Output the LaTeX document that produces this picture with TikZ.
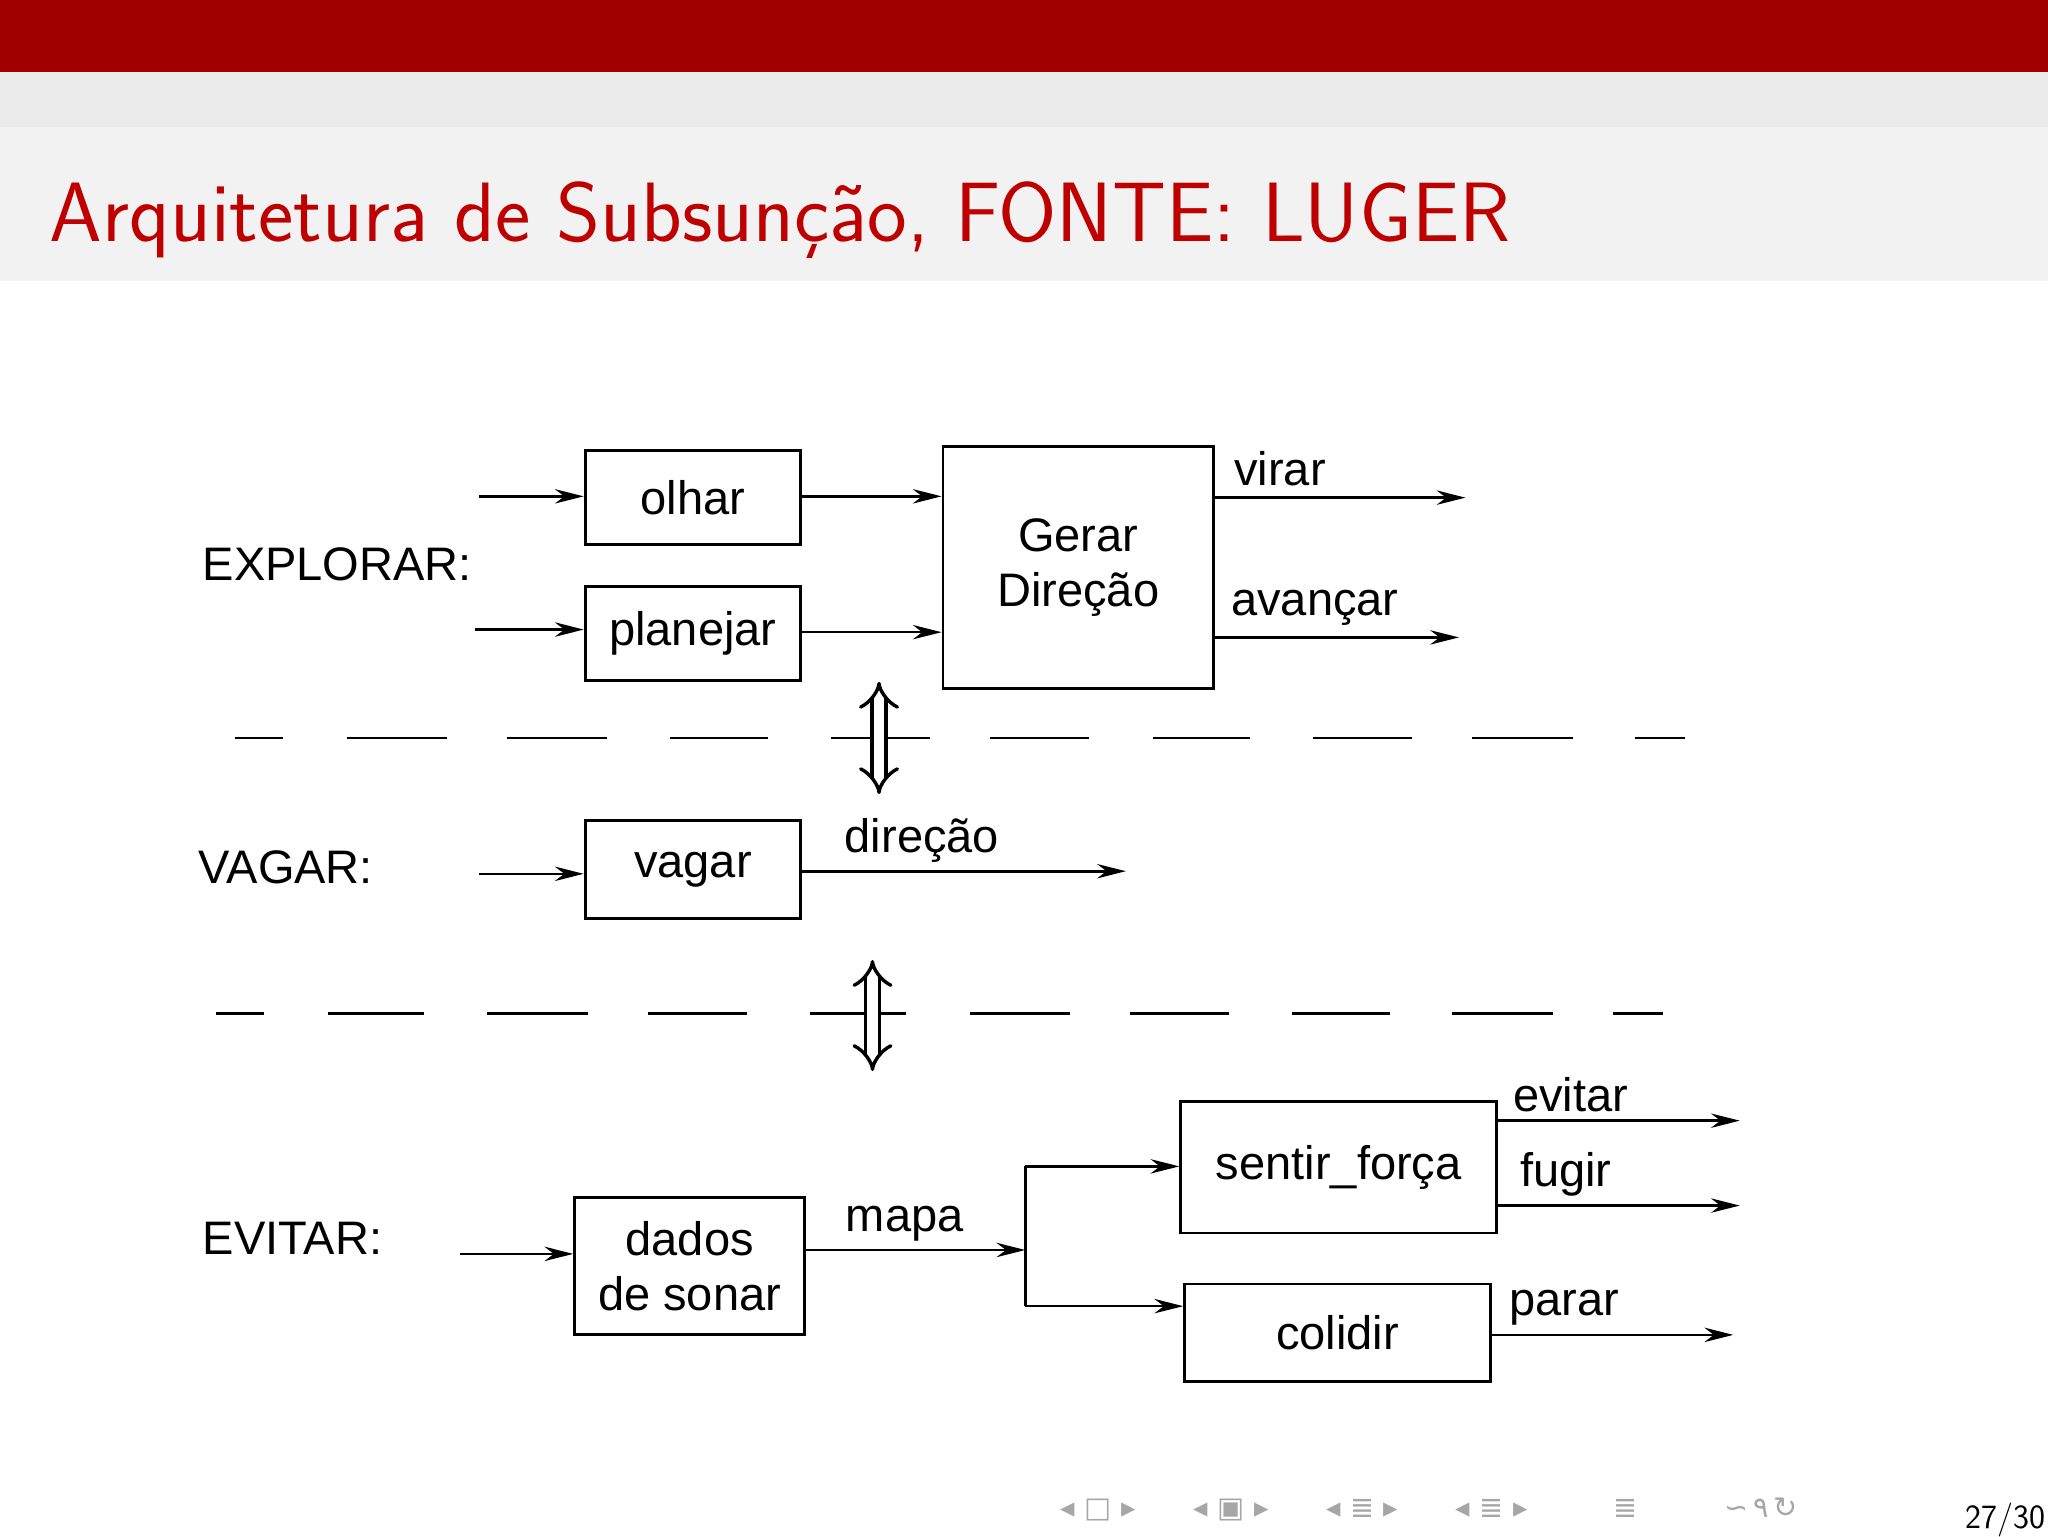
\documentclass[tikz,border=0pt]{standalone}
\usepackage{fontspec}
\setmainfont{Liberation Sans}
\newfontfamily\lmsans{Latin Modern Sans}
\newfontfamily\dvs{DejaVu Sans}
\usetikzlibrary{arrows.meta}
\definecolor{bred}{RGB}{160,0,0}
\definecolor{tred}{RGB}{190,0,0}
\tikzset{
 x=1pt,y=-1pt,
 box/.style={draw,line width=2.2pt,inner sep=0pt,font=\fontsize{36}{42}\selectfont,align=center},
 lbl/.style={font=\fontsize{36}{42}\selectfont,inner sep=0pt},
 arr/.style={line width=2pt,-{Stealth[length=22pt,width=11pt]}},
 seg/.style={line width=2.2pt},
 dbl/.style={double,double distance=8pt,line width=2.6pt,{Implies[scale=1.9]}-{Implies[scale=1.9]}}
}
\begin{document}
\begin{tikzpicture}
\useasboundingbox (0,0) rectangle (1568,1176);
\fill[bred] (0,0) rectangle (1568,55);
\fill[black!8] (0,55) rectangle (1568,97);
\fill[black!5] (0,97) rectangle (1568,215);
\node[anchor=base west,text=tred,font=\lmsans\fontsize{64.5}{72}\selectfont,inner sep=0pt] (title) at (38,185) {Arquitetura de Subsunção, FONTE: LUGER};
% boxes
\node[box,minimum width=165pt,minimum height=72pt] (olhar) at (530.5,381) {olhar};
\node[box,minimum width=165pt,minimum height=72pt] (plan) at (530.5,485) {planejar};
\node[box,minimum width=207pt,minimum height=185pt] (gerar) at (825.5,434.5) {Gerar\\Direção};
\node[box,minimum width=165pt,minimum height=75pt] (vagar) at (530.5,665.5) {vagar};
\node[box,minimum width=176pt,minimum height=105pt] (dados) at (528,969.5) {dados\\de sonar};
\node[box,minimum width=242pt,minimum height=101pt] (sentir) at (1025,893.5) {sentir\_força};
\node[box,minimum width=234pt,minimum height=75pt] (colidir) at (1024,1020.5) {colidir};
% labels
\node[lbl,anchor=west] (lexp) at (155,432) {EXPLORAR:};
\node[lbl,anchor=west] (lvag) at (152,664) {VAGAR:};
\node[lbl,anchor=west] (lev) at (155,948) {EVITAR:};
% coordinates
\coordinate (i1) at (367,380); \coordinate (i2) at (364,482);
\coordinate (i3) at (367,669); \coordinate (i4) at (352,960);
\coordinate (o1) at (1122,381); \coordinate (o2) at (1117,488);
\coordinate (o3) at (862,667);
\coordinate (br) at (785,957);
\coordinate (o4) at (1332,858); \coordinate (o5) at (1332,923); \coordinate (o6) at (1327,1022);
\draw[arr] (i1) -- (olhar.west|-i1);
\draw[arr] (i2) -- (plan.west|-i2);
\draw[arr] (olhar.east|-i1) -- (gerar.west|-i1);
\draw[arr] (plan.east|-0,484) -- (gerar.west|-0,484);
\draw[arr] (gerar.east|-o1) -- node[lbl,above,pos=0.26,yshift=8pt]{virar} (o1);
\draw[arr] (gerar.east|-o2) -- node[lbl,above,pos=0.41,yshift=8pt]{avançar} (o2);
\draw[arr] (i3) -- (vagar.west|-i3);
\draw[arr] (vagar.east|-o3) -- node[lbl,above,pos=0.37,yshift=6pt]{direção} (o3);
\draw[arr] (i4) -- (dados.west|-i4);
\draw[arr] (dados.east|-br) -- node[lbl,above,pos=0.45,yshift=6pt]{mapa} (br);
\draw[line width=2pt] (785,893) -- (785,1000);
\draw[arr] (785,893) -- (sentir.west|-0,893);
\draw[arr] (785,1000) -- (colidir.west|-0,1000);
\draw[arr] (sentir.east|-o4) -- node[lbl,above,pos=0.3,yshift=6pt]{evitar} (o4);
\draw[arr] (sentir.east|-o5) -- node[lbl,above,pos=0.28,yshift=6pt]{fugir} (o5);
\draw[arr] (colidir.east|-o6) -- node[lbl,above,pos=0.3,yshift=6pt]{parar} (o6);
% dashed separators
\foreach \a/\b in {180/217,266/342,388/465,513/588,636/712,758/834,883/957,1005/1081,1127/1204,1252/1290}
  \draw[seg] (\a,565) -- (\b,565);
\foreach \a/\b in {165/202,251/325,373/450,496/572,620/694,743/819,865/941,989/1064,1112/1189,1235/1273}
  \draw[seg] (\a,776) -- (\b,776);
\coordinate (d1a) at (673,522); \coordinate (d1b) at (673,608);
\coordinate (d2a) at (668,735); \coordinate (d2b) at (668,820);
\draw[dbl] (d1a) -- (d1b);
\draw[dbl] (d2a) -- (d2b);
% footer
\node[anchor=base west,text=black!35,font=\dvs\fontsize{22}{26}\selectfont,inner sep=0pt] (nav) at (812,1162) {◂\,\,□\,\,▸\qquad ◂\,\,▣\,\,▸\qquad ◂\,\,≣\,\,▸\qquad ◂\,\,≣\,\,▸\qquad\quad ≣\qquad\quad ∽\,٩\,↻};
\node[anchor=base east,font=\lmsans\fontsize{26}{30}\selectfont,inner sep=0pt] (pg) at (1566,1170) {27/30};
\end{tikzpicture}
\end{document}
